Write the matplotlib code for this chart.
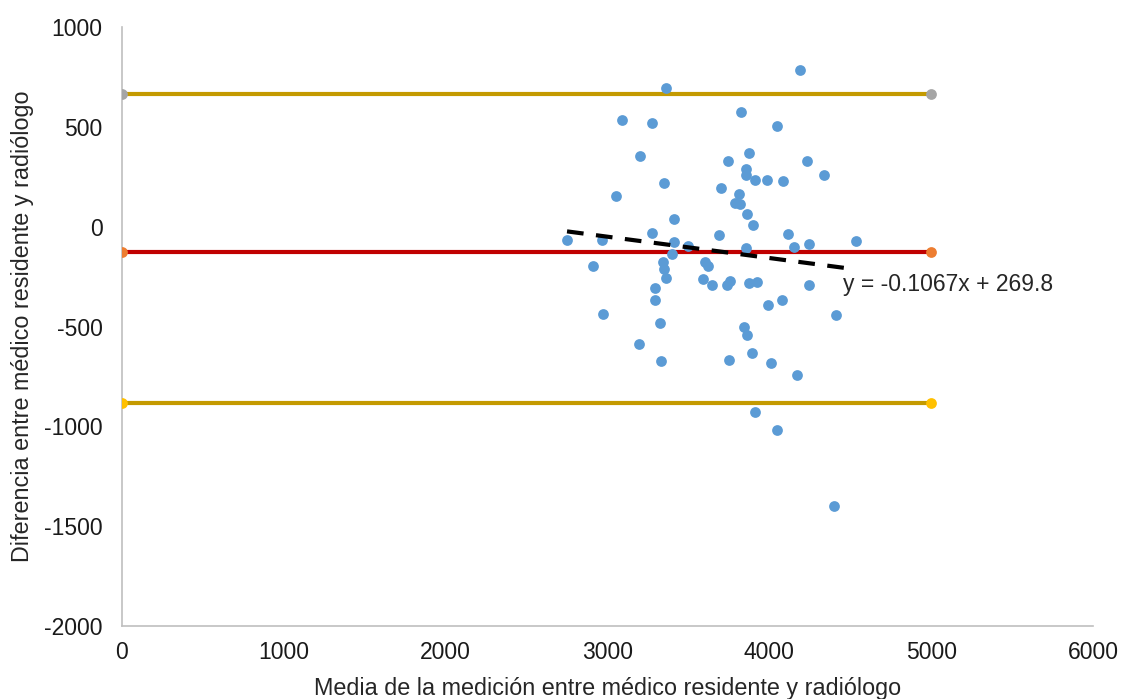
import matplotlib
matplotlib.use("Agg")
import matplotlib.pyplot as plt
import numpy as np

plt.rcParams['font.family'] = ['Liberation Sans', 'DejaVu Sans']
plt.rcParams['axes.unicode_minus'] = False

# Bland-Altman data: mean of the two measurements (x) and difference (y)
media = [2750, 2911, 2966, 2973, 3053, 3090, 3201, 3195, 3275, 3275,
         3294, 3294, 3331, 3343, 3350, 3362, 3350, 3362, 3411, 3411,
         3399, 3498, 3603, 3621, 3591, 3646, 3689, 3739, 3757, 3751,
         3702, 3745, 3788, 3819, 3813, 3825, 3856, 3856, 3875, 3863,
         3900, 3856, 3875, 3924, 3844, 3863, 3893, 3912, 3912, 3986,
         3992, 4011, 4048, 4048, 4085, 4079, 4116, 4153, 4172, 4190,
         4233, 4246, 4246, 4338, 4413, 4400, 4536, 3325]
diferencia = [-65, -196, -65, -437, 156, 533, 352, -588, 518, -30,
              -307, -367, -673, -176, -211, -256, 221, 693, 40, -75,
              -136, -95, -176, -196, -261, -291, -40, -291, -271, -668,
              196, 327, 116, 111, 166, 573, 291, 261, 367, 65,
              10, -106, -281, -276, -503, -543, -633, 236, -930, 236,
              -392, -683, 503, -1020, 231, -367, -35, -101, -744, 784,
              327, -85, -291, 261, -442, -1397, -70, -482]

# Limits of agreement and mean difference (lines from x=0 to x=5000)
linea_x = [0, 5000]
limite_superior = 663
media_dif = -126
limite_inferior = -882

# Linear trend line
pendiente = -0.1067
intercepto = 269.8
etiqueta_tendencia = "y = -0.1067x + 269.8"

xticks = [0, 1000, 2000, 3000, 4000, 5000, 6000]
yticks = [-2000, -1500, -1000, -500, 0, 500, 1000]

fig = plt.figure(figsize=(11.23, 6.99), dpi=100)
ax = fig.add_axes([0.1086, 0.1044, 0.8647, 0.857])

gold = '#C49A00'
ax.plot(linea_x, [limite_superior] * 2, color=gold, lw=3, zorder=2)
ax.plot(linea_x, [media_dif] * 2, color='#C00000', lw=3, zorder=2)
ax.plot(linea_x, [limite_inferior] * 2, color=gold, lw=3, zorder=2)
ax.scatter(linea_x, [limite_superior] * 2, s=60, color='#A5A5A5', zorder=3, linewidths=0)
ax.scatter(linea_x, [media_dif] * 2, s=60, color='#ED7D31', zorder=3, linewidths=0)
ax.scatter(linea_x, [limite_inferior] * 2, s=60, color='#FFC000', zorder=3, linewidths=0)

ax.scatter(media, diferencia, s=60, color='#5B9BD5', zorder=4, linewidths=0)

tx = np.array([min(media), max(media)])
ax.plot(tx, pendiente * tx + intercepto, color='black', lw=3,
        dashes=(4, 3), zorder=5)
ax.text(4456, -291, etiqueta_tendencia, fontsize=16.5, color='#262626',
        va='center', ha='left', zorder=6)

ax.set_xlim(0, 6000)
ax.set_ylim(-2000, 1000)
ax.set_xticks(xticks)
ax.set_yticks(yticks)
ax.tick_params(length=0, labelsize=16.5, colors='#1a1a1a')
ax.tick_params(axis='y', pad=14)
ax.tick_params(axis='x', pad=11)
for s in ['top', 'right']:
    ax.spines[s].set_visible(False)
for s in ['left', 'bottom']:
    ax.spines[s].set_color('#BFBFBF')
    ax.spines[s].set_linewidth(1.2)
ax.set_xlabel("Media de la medición entre médico residente y radiólogo",
              fontsize=16.8, color='#262626', labelpad=9)
ax.set_ylabel("Diferencia entre médico residente y radiólogo",
              fontsize=16.8, color='#262626', labelpad=7)

fig.savefig("out.png", dpi=100)
